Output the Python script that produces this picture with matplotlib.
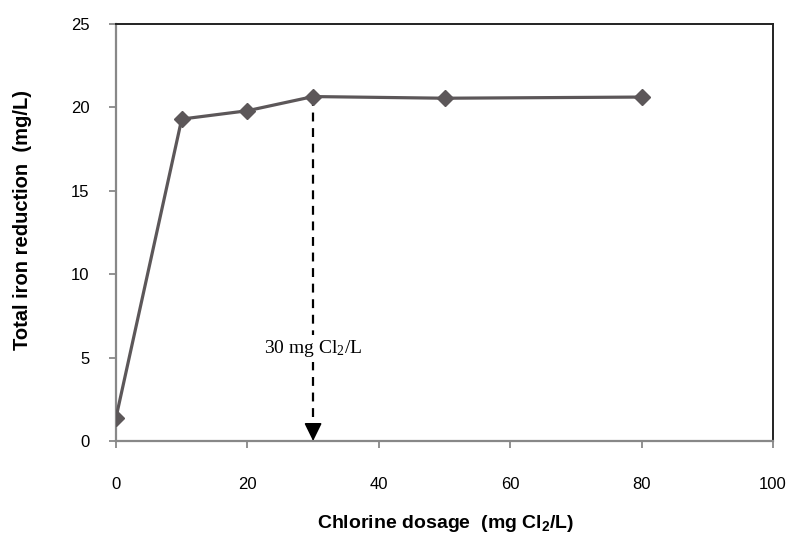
import numpy as np
import matplotlib.pyplot as plt

plt.rcParams['font.family'] = ['Liberation Sans', 'DejaVu Sans']

dose = np.array([0, 10, 20, 30, 50, 80])  # mg Cl2/L
iron = np.array([1.4, 19.3, 19.8, 20.65, 20.55, 20.62])  # mg/L
opt_dose = 30
opt_iron = 20.65

x_ticks = [0, 20, 40, 60, 80, 100]
y_ticks = [0, 5, 10, 15, 20, 25]

fig = plt.figure(figsize=(7.93, 5.38), dpi=100)
ax = fig.add_axes([116/793, 1-441/538, 657/793, 417/538])

ax.plot(dose, iron, color='#5c5759', lw=2.3, marker='D', ms=8, zorder=3)

# dashed arrow down to the x axis
ax.plot([opt_dose, opt_dose], [opt_iron, 0.85], color='black', lw=1.6,
        ls=(0, (4, 3)), zorder=2)
ax.annotate('', xy=(opt_dose, 0), xytext=(opt_dose, 0.95),
            arrowprops=dict(arrowstyle='-|>,head_length=0.55,head_width=0.27',
                            color='black', lw=1.2, mutation_scale=20,
                            shrinkA=0, shrinkB=0), zorder=4)
ax.text(opt_dose, 5.55, r'30 mg Cl$\mathregular{_2}$/L', family='Liberation Serif',
        fontsize=14, ha='center', va='center', zorder=5,
        bbox=dict(facecolor='white', edgecolor='none', pad=2))

ax.set_xlim(0, 100)
ax.set_ylim(0, 25)
ax.set_xticks(x_ticks)
ax.set_yticks(y_ticks)
ax.tick_params(axis='both', direction='out', length=5, width=1.3,
               color='#888888', labelsize=12)
ax.tick_params(axis='x', pad=21)
ax.tick_params(axis='y', pad=14)

for s in ['left', 'bottom']:
    ax.spines[s].set_color('#888888')
    ax.spines[s].set_linewidth(1.6)
for s in ['top', 'right']:
    ax.spines[s].set_color('#222222')
    ax.spines[s].set_linewidth(1.4)

ax.set_xlabel(r'Chlorine dosage  (mg Cl$\mathregular{_2}$/L)', fontsize=14,
              fontweight='bold', va='center')
ax.xaxis.set_label_coords(0.502, -0.197)
ax.set_ylabel('Total iron reduction  (mg/L)', fontsize=14.5, fontweight='bold',
              va='center', ha='center')
ax.yaxis.set_label_coords(-0.143, 0.53)

fig.savefig('out.png', dpi=100)
